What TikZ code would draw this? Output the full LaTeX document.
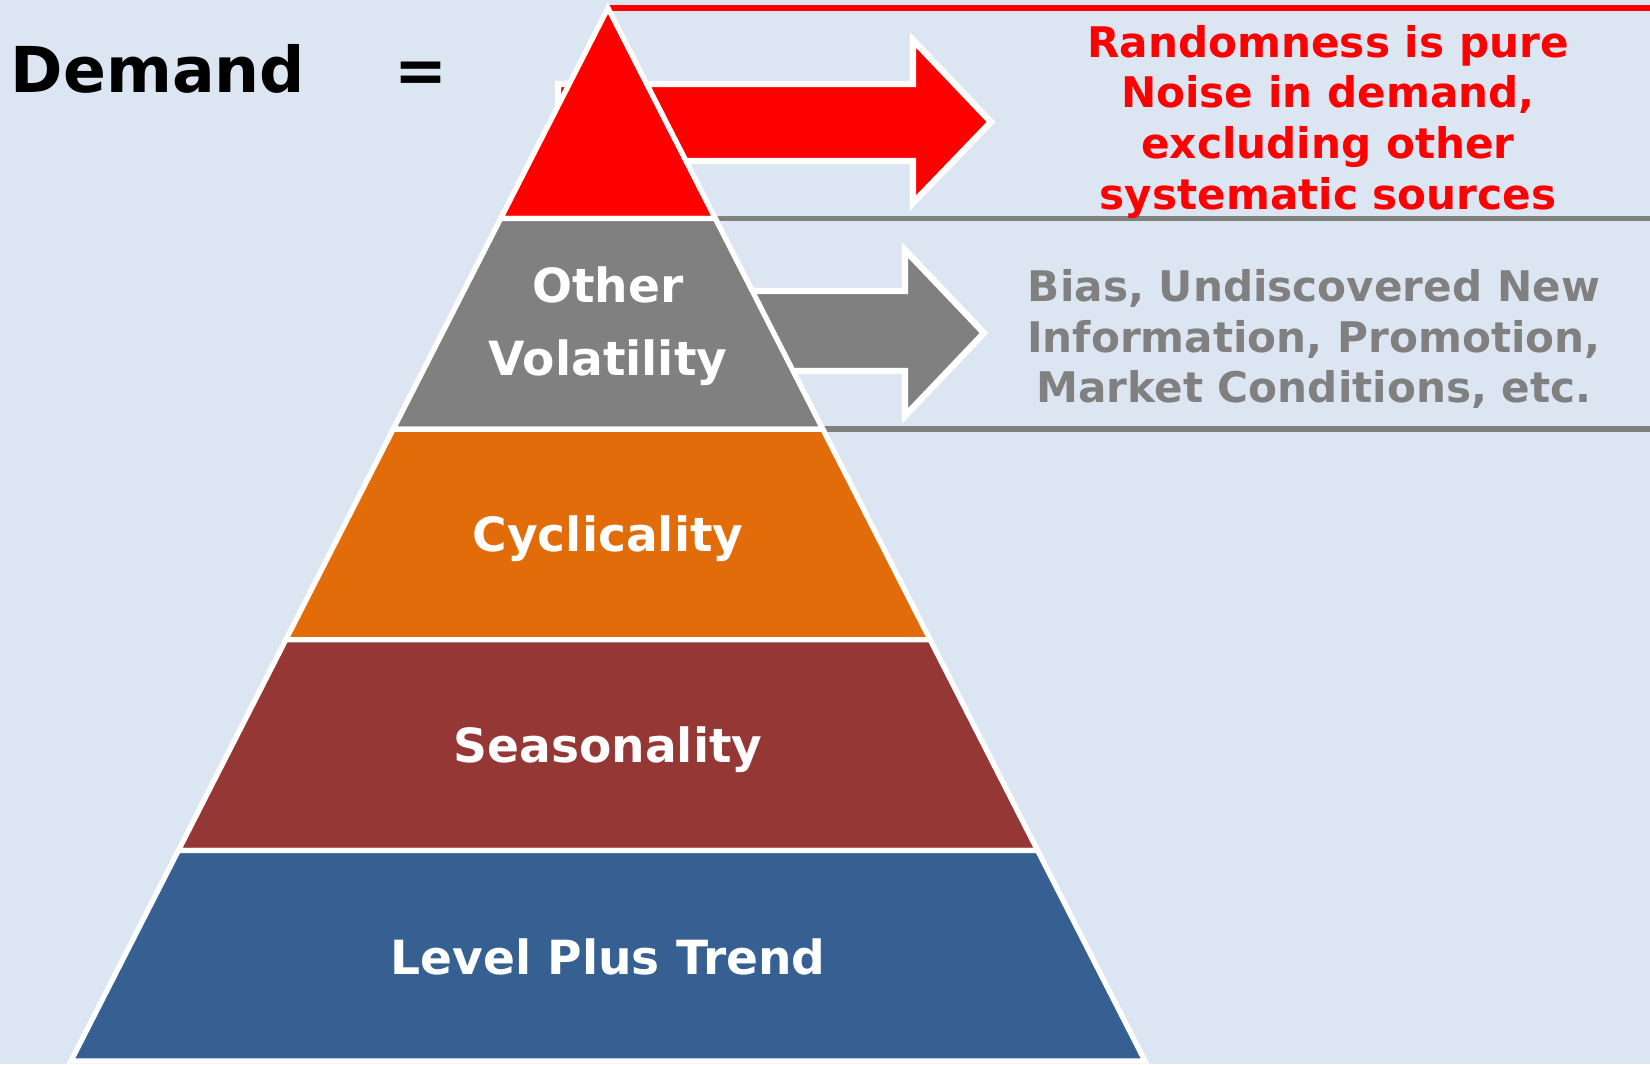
\documentclass[tikz,border=0pt]{standalone}
\usepackage{fontspec}
\setmainfont{DejaVu Sans}
\definecolor{bgblue}{HTML}{DCE6F2}
\definecolor{volgrey}{HTML}{808080}
\definecolor{cycorange}{HTML}{E36C0A}
\definecolor{seasbrown}{HTML}{953735}
\definecolor{trendblue}{HTML}{376092}

\begin{document}
\begin{tikzpicture}[layer/.style = {draw=white, line width=1.5pt, line join=miter},
layertext/.style = {text=white, font=\bfseries\fontsize{13.4}{20.6}\selectfont, align=center},
note/.style = {font=\bfseries\fontsize{12}{14.5}\selectfont, align=center},
blockarrow/.style = {draw=white, line width=1.8pt, line join=miter},
rule/.style = {line width=1.6pt}]

  \fill[bgblue] (0,0) rectangle (16.5,10.64);
  \useasboundingbox (0,0) rectangle (16.5,10.64);

  % title
  \node[anchor=base, font=\bfseries\fontsize{18}{22}\selectfont] (demand) at (1.58,9.71) {Demand};
  \node[anchor=base, font=\bfseries\fontsize{18}{22}\selectfont] (equals) at (4.21,9.71) {=};

  % rules to the right
  \coordinate (apex) at (6.08,10.56);
  \draw[rule, red] (apex) -- (16.5,10.56);
  \draw[rule, volgrey] (6.08,8.454) -- (16.5,8.454);
  \draw[rule, volgrey] (6.08,6.348) -- (16.5,6.348);

  % arrows
  \filldraw[red, blockarrow] (5.58,9.80) -- (9.13,9.80) -- (9.13,10.24) -- (9.91,9.42)
    -- (9.13,8.61) -- (9.13,9.03) -- (5.58,9.03) -- cycle;
  \filldraw[volgrey, blockarrow] (6.6,7.73) -- (9.05,7.73) -- (9.05,8.14) -- (9.84,7.31)
    -- (9.05,6.48) -- (9.05,6.93) -- (6.6,6.93) -- cycle;

  % pyramid
  \filldraw[layer, fill=red] (apex) -- (7.154,8.454) -- (5.006,8.454) -- cycle;
  \filldraw[layer, fill=volgrey] (5.006,8.454) -- (7.154,8.454) -- (8.228,6.348) -- (3.932,6.348) -- cycle;
  \filldraw[layer, fill=cycorange] (3.932,6.348) -- (8.228,6.348) -- (9.302,4.242) -- (2.858,4.242) -- cycle;
  \filldraw[layer, fill=seasbrown] (2.858,4.242) -- (9.302,4.242) -- (10.376,2.136) -- (1.784,2.136) -- cycle;
  \filldraw[layer, fill=trendblue] (1.784,2.136) -- (10.376,2.136) -- (11.45,0.03) -- (0.71,0.03) -- cycle;

  \node[layertext] (other) at (6.08,7.38) {Other\\Volatility};
  \node[layertext] (cyclic) at (6.08,5.25) {Cyclicality};
  \node[layertext] (season) at (6.08,3.14) {Seasonality};
  \node[layertext] (level) at (6.08,1.07) {Level Plus Trend};

  % notes
  \node[note, text=red] (noise) at (13.28,9.42)
    {Randomness is pure\\Noise in demand,\\excluding other\\systematic sources};
  \node[note, text=volgrey] (bias) at (13.14,7.25)
    {Bias, Undiscovered New\\Information, Promotion,\\Market Conditions, etc.};
\end{tikzpicture}
\end{document}
